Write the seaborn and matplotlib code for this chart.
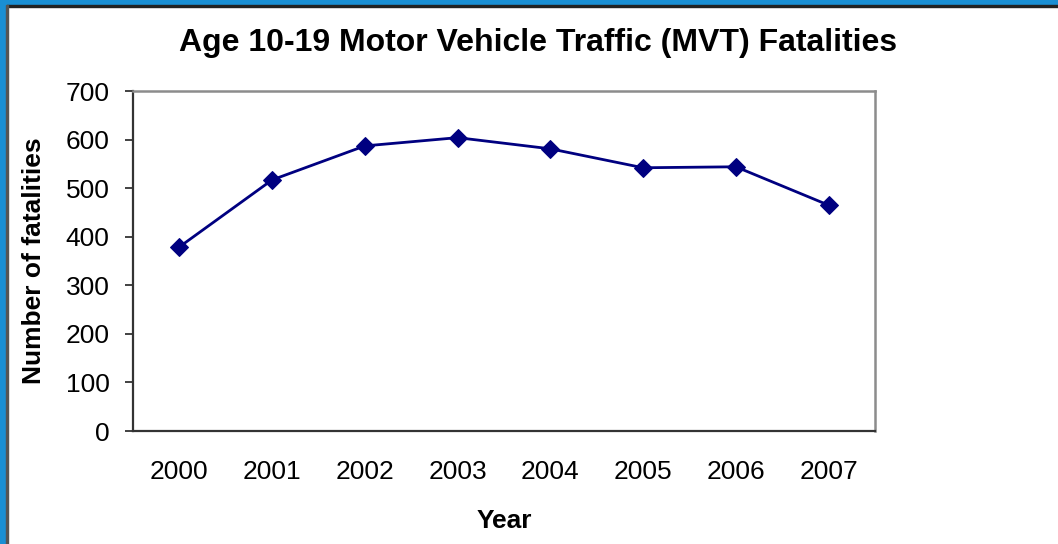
import matplotlib
matplotlib.use('Agg')
import matplotlib.pyplot as plt
import matplotlib.patches as mpatches
import seaborn as sns
import pandas as pd

years = ["2000", "2001", "2002", "2003", "2004", "2005", "2006", "2007"]
fatalities = [379, 517, 587, 604, 581, 542, 544, 465]
y_ticks = [0, 100, 200, 300, 400, 500, 600, 700]

df = pd.DataFrame({"Year": years, "Fatalities": fatalities})

sns.set_style("white")
plt.rcParams['font.family'] = ['Liberation Sans', 'DejaVu Sans']
plt.rcParams['text.color'] = 'black'
plt.rcParams['axes.labelcolor'] = 'black'
plt.rcParams['xtick.color'] = 'black'
plt.rcParams['ytick.color'] = 'black'

fig = plt.figure(figsize=(10.58, 5.44), dpi=100)
ax = fig.add_axes([0.1257, 0.2077, 0.827 - 0.1257, 0.8327 - 0.2077])

sns.lineplot(data=df, x="Year", y="Fatalities", ax=ax, color="#000080",
             linewidth=2.0, marker="D", markersize=9, markeredgecolor="#000080")

ax.set_xlim(-0.5, len(years) - 0.5)
ax.set_ylim(0, 700)
ax.set_yticks(y_ticks)
ax.tick_params(axis="y", which="major", left=True, length=6, width=1.3,
               color="#333333", labelsize=19, pad=11)
ax.tick_params(axis="x", bottom=False, length=0, labelsize=19, pad=21)

for side in ["left", "bottom"]:
    ax.spines[side].set_color("#333333")
    ax.spines[side].set_linewidth(1.6)
for side in ["top", "right"]:
    ax.spines[side].set_color("#8c8c8c")
    ax.spines[side].set_linewidth(1.8)

ax.set_xlabel("Year", fontsize=19, fontweight="bold", labelpad=18)
ax.set_ylabel("Number of fatalities", fontsize=19, fontweight="bold", labelpad=14)
fig.text(0.5085, 1 - 43 / 544, "Age 10-19 Motor Vehicle Traffic (MVT) Fatalities",
         fontsize=23, fontweight="bold", ha="center", va="center")

# window frame
fig.patches.append(mpatches.Rectangle((0, 1 - 5 / 544), 1, 5 / 544,
                   transform=fig.transFigure, color="#1a8fd4", zorder=0))
fig.patches.append(mpatches.Rectangle((0, 1 - 7 / 544), 1, 2 / 544,
                   transform=fig.transFigure, color="#222222", zorder=0))
fig.patches.append(mpatches.Rectangle((0, 0), 6 / 1058, 1,
                   transform=fig.transFigure, color="#1a8fd4", zorder=0))
fig.patches.append(mpatches.Rectangle((6 / 1058, 0), 1.5 / 1058, 1 - 5 / 544,
                   transform=fig.transFigure, color="#555555", zorder=0))

fig.savefig("out.png", dpi=100)
